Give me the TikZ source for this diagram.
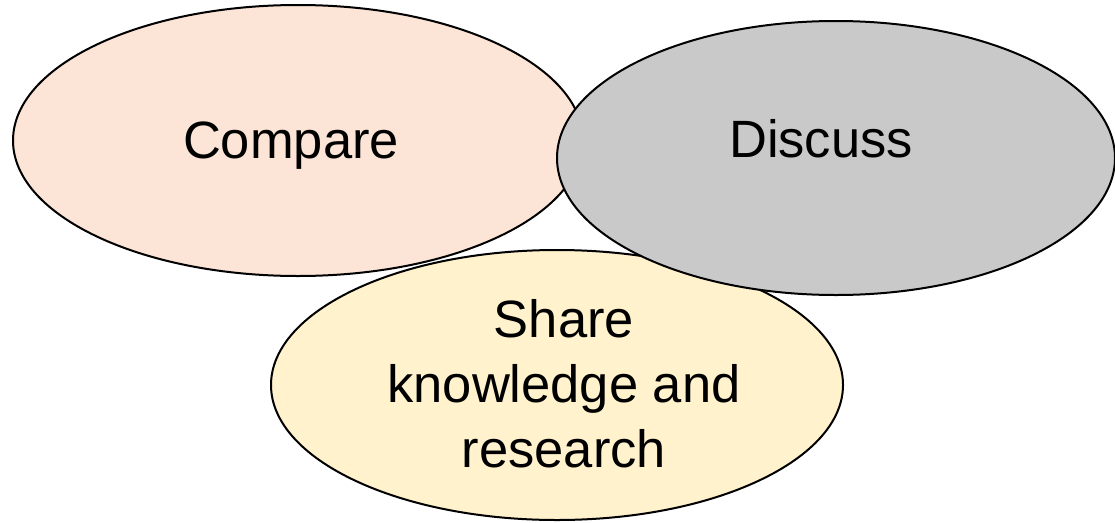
\documentclass[tikz,border=0pt]{standalone}
\usepackage{fontspec}
\setmainfont{Liberation Sans}
\usetikzlibrary{shapes.geometric}
\definecolor{peach}{RGB}{252,228,214}
\definecolor{silver}{RGB}{201,201,201}
\definecolor{cream}{RGB}{255,242,204}
\newcommand{\blob}[5][]{\node[ellipse,draw,line width=2pt,inner sep=0pt,minimum width=#4,minimum height=#5,#1] at (#2) (#3) {}}
\newcommand{\bigword}{\fontsize{52.5}{65}\selectfont}

\begin{document}
\begin{tikzpicture}[x=1pt,y=-1pt]
				\useasboundingbox (0,0) rectangle (1115,522);

				\blob[fill=peach]{298,140.5}{compare}{570pt}{271pt};
				\blob[fill=cream]{557,385}{share}{572pt}{270pt};
				\blob[fill=silver]{836,158}{discuss}{558pt}{274pt};

				\node[black,anchor=base,font=\bigword] at (291,158) (comparetext) {Compare};
				\node[black,anchor=base,font=\bigword] at (821,157) (discusstext) {Discuss};
				\node[black,align=center,font=\bigword] at (564,384) (sharetext) {Share\\knowledge and\\research};

\end{tikzpicture}
\end{document}
